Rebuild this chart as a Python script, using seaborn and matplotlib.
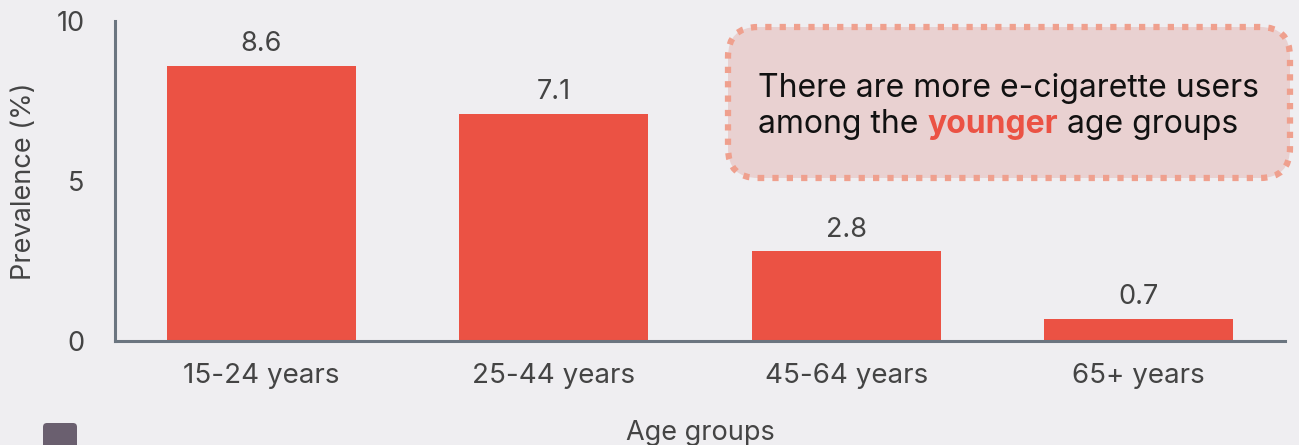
import matplotlib
matplotlib.use("Agg")
import matplotlib.pyplot as plt
from matplotlib.patches import FancyBboxPatch
from matplotlib.transforms import IdentityTransform
import seaborn as sns
import pandas as pd

categories = ["15-24 years", "25-44 years", "45-64 years", "65+ years"]
values = [8.6, 7.1, 2.8, 0.7]
value_labels = ["8.6", "7.1", "2.8", "0.7"]
yticks = [0, 5, 10]

BG = "#EFEEF1"
BAR = "#EB5244"
SPINE = "#6B7580"
TXT = "#444444"
H = 445

sns.set_theme(style="white")
plt.rcParams["font.family"] = ["Inter", "DejaVu Sans"]

df = pd.DataFrame({"age": categories, "prev": values})

fig = plt.figure(figsize=(12.99, 4.45), dpi=100, facecolor=BG)
ax = fig.add_axes([115/1299, 1-341/H, (1285-115)/1299, (341-21)/H])
ax.set_facecolor(BG)

sns.barplot(data=df, x="age", y="prev", color=BAR, width=0.645, saturation=1,
            ax=ax, edgecolor="none")
ax.set_xlim(-0.5, 3.5)
ax.set_ylim(0, 10)
ax.set_yticks(yticks)
ax.set_yticklabels([str(t) for t in yticks])

for i, (v, lab) in enumerate(zip(values, value_labels)):
    ax.annotate(lab, (i, v), xytext=(0, 6), textcoords="offset points",
                ha="center", va="bottom", fontsize=19.5, color=TXT)

for s in ["top", "right"]:
    ax.spines[s].set_visible(False)
for s in ["left", "bottom"]:
    ax.spines[s].set_color(SPINE)
    ax.spines[s].set_linewidth(2.2)

ax.tick_params(axis="both", length=0, labelcolor=TXT)
ax.tick_params(axis="x", pad=16, labelsize=20)
ax.tick_params(axis="y", pad=22, labelsize=19.5)
ax.set_xlabel("Age groups", fontsize=19.5, color=TXT, labelpad=22)
ax.set_ylabel("Prevalence (%)", fontsize=19.5, color=TXT, labelpad=14)

# annotation box (pixel coords)
box = FancyBboxPatch((728, H-178), 1290-728, 178-27,
                     boxstyle="round,pad=0,rounding_size=30",
                     transform=IdentityTransform(), facecolor="#E9D1D1",
                     edgecolor="#EFA08E", linewidth=4.5,
                     linestyle=(0, (1, 1.3)))
fig.patches.append(box)

fs = 23
fig.text(758/1299, 1-97/H, "There are more e-cigarette users", fontsize=fs,
         color="#111111", va="baseline", ha="left")
t1 = fig.text(758/1299, 1-133/H, "among the ", fontsize=fs, color="#111111",
              va="baseline", ha="left")
t2 = fig.text(0, 0, "younger", fontsize=fs, color=BAR, fontweight="bold")
t3 = fig.text(0, 0, " age groups", fontsize=fs, color="#111111")
fig.canvas.draw()
r = fig.canvas.get_renderer()
bb1 = t1.get_window_extent(r)
x1, _ = fig.transFigure.inverted().transform((bb1.x1, 0))
t2.set_position((x1, 1-133/H)); t2.set_va("baseline")
fig.canvas.draw()
bb2 = t2.get_window_extent(r)
x2, _ = fig.transFigure.inverted().transform((bb2.x1, 0))
t3.set_position((x2, 1-133/H)); t3.set_va("baseline")

# small square marker at bottom-left
sq = FancyBboxPatch((43, -6), 34, 28,
                    boxstyle="round,pad=0,rounding_size=4",
                    transform=IdentityTransform(), facecolor="#6A5F6F",
                    edgecolor="none")
fig.patches.append(sq)

fig.savefig("out.png", dpi=100, facecolor=BG)
